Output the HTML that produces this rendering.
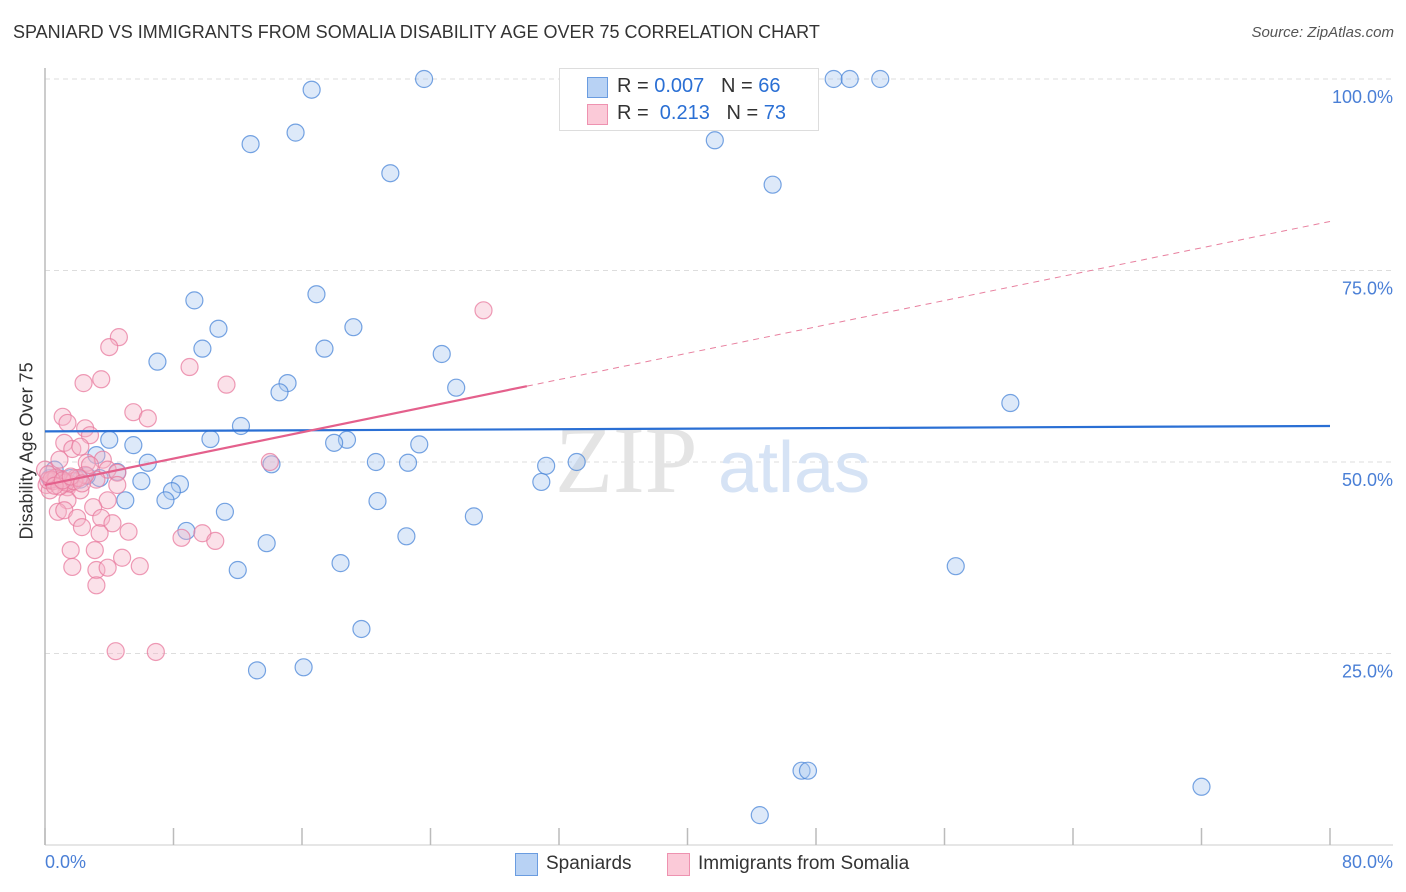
<!DOCTYPE html>
<html><head><meta charset="utf-8"><style>
body{margin:0;background:#fff;font-family:"Liberation Sans",sans-serif;}
#wrap{position:relative;width:1406px;height:892px;overflow:hidden;}
.t{position:absolute;white-space:nowrap;}
</style></head><body>
<div id="wrap">
<div class="t" style="left:13px;top:22px;font-size:18px;color:#333;">SPANIARD VS IMMIGRANTS FROM SOMALIA DISABILITY AGE OVER 75 CORRELATION CHART</div>
<div class="t" style="right:12px;top:24px;font-size:15px;color:#555;font-style:italic;">Source: ZipAtlas.com</div>
<svg id="plot" width="1406" height="892" style="position:absolute;left:0;top:0;"></svg>
</div>
<script>
const xTicksVals=[0,10,20,30,40,50,60,70,80];
const yTickVals=[25,50,75,100];
const yTickLabels=["25.0%","50.0%","75.0%","100.0%"];
const spanX=[23.6,16.6,15.6,12.8,21.5,49.1,50.1,52.0,41.7,45.3,9.3,16.9,10.8,19.2,7.0,9.8,17.4,24.7,15.1,14.6,25.6,60.1,12.2,10.3,4.0,5.5,18.8,18.0,23.3,6.4,20.6,22.6,14.1,31.2,33.1,30.9,4.5,6.0,3.2,8.4,7.9,7.5,5.0,20.7,11.2,26.7,8.8,22.5,13.8,12.0,18.4,56.7,19.7,13.2,16.1,47.1,47.5,72.0,44.5,0.3,0.9,1.6,2.2,0.6,3.4,2.6];
const spanY=[100,98.6,93.0,91.5,87.7,100,100,100,92.0,86.2,71.1,71.9,67.4,67.6,63.1,64.8,64.8,64.1,60.3,59.1,59.7,57.7,54.7,53.0,52.9,52.2,52.9,52.5,52.3,49.9,50.0,49.9,49.7,49.5,50.0,47.4,48.7,47.5,50.9,47.1,46.2,45.0,45.0,44.9,43.5,42.9,41.0,40.3,39.4,35.9,36.8,36.4,28.2,22.8,23.2,9.7,9.7,7.6,3.9,47.9,47.7,47.9,47.7,49.0,47.9,48.2];
const somX=[4.6,4.0,2.4,3.5,9.0,11.3,27.3,5.5,6.4,1.1,1.4,2.5,1.2,1.7,2.8,2.2,3.6,14.0,2.6,0.9,3.9,4.5,3.2,4.5,1.4,2.2,3.9,1.4,3.0,0.8,1.2,2.0,2.3,3.5,4.2,3.4,5.2,8.5,9.8,10.6,1.6,3.1,4.8,5.9,1.7,3.2,3.9,3.2,4.4,6.9,0.1,0.6,1.2,1.9,0.3,2.5,0,2.8,0.5,1.0,1.5,0.2,0.7,1.3,0.4,0.9,1.8,2.1,0.2,0.6,1.1,1.6,2.3];
const somY=[66.3,65.0,60.3,60.8,62.4,60.1,69.8,56.5,55.7,55.9,55.1,54.4,52.5,51.7,53.5,52.0,50.3,50.0,49.9,50.3,49.0,48.6,47.7,47.0,46.7,46.3,45.0,45.0,44.1,43.5,43.7,42.7,41.5,42.7,42.0,40.7,40.9,40.1,40.7,39.7,38.5,38.5,37.5,36.4,36.3,35.9,36.2,33.9,25.3,25.2,47.0,47.9,47.4,47.9,46.3,48.3,49.0,49.6,47.5,47.8,47.2,47.6,48.0,47.3,47.7,46.8,47.5,47.9,48.4,46.9,47.6,48.1,47.2];
const spanTrend=[54.0,54.7];   // y at x=0 and x=80
const somTrend=[47.0,81.4];    // y at x=0 and x=80
const somSolidEnd=30;

const X0=45,X1=1330,Y0=845,Y100=79;
const sx=v=>X0+v/80*(X1-X0);
const sy=v=>Y0-v/100*(Y0-Y100);
const svg=document.getElementById('plot');
const NS='http://www.w3.org/2000/svg';
function mk(tag,attrs,parent){const e=document.createElementNS(NS,tag);for(const k in attrs)e.setAttribute(k,attrs[k]);(parent||svg).appendChild(e);return e;}

yTickVals.forEach((v,i)=>{
  const g=mk('line',{x1:X0,x2:1393,y1:sy(v),y2:sy(v),stroke:'#ddd','stroke-dasharray':'5,4','stroke-width':1});
  
  
  const t=mk('text',{x:1393,y:sy(v)+24,'text-anchor':'end','font-size':18,fill:'#4a7fd6','font-family':'Liberation Sans, sans-serif'});
  t.textContent=yTickLabels[i];
  
  
});
const ax=mk('line',{x1:X0,x2:X0,y1:68,y2:Y0,stroke:'#bbb','stroke-width':1.5});


const bx=mk('line',{x1:X0,x2:1393,y1:Y0,y2:Y0,stroke:'#ccc','stroke-width':1});


for(let v=0;v<=80;v+=8/0.999*1){}
for(let i=0;i<=10;i++){
  const v=i*8;
  const tk=mk('line',{x1:sx(v),x2:sx(v),y1:828,y2:Y0,stroke:'#bbb','stroke-width':1.5});
  
  
}
// watermark
const w1=mk('text',{x:555,y:492,'font-size':95,fill:'#e4e4e4','font-family':'Liberation Serif, serif'});w1.textContent='ZIP';


const w2=mk('text',{x:718,y:492,'font-size':72,fill:'#d6e3f5','font-family':'Liberation Sans, sans-serif'});w2.textContent='atlas';



function pts(xs,ys,fill,stroke,name){
  xs.forEach((x,i)=>{
    const c=mk('circle',{cx:sx(x),cy:sy(ys[i]),r:8.5,fill:fill,'fill-opacity':0.4,stroke:stroke,'stroke-opacity':0.75,'stroke-width':1.2});
    
    
  });
}
pts(spanX,spanY,'#a9c8f0','#4a86d8','spaniard-point');
pts(somX,somY,'#f6b3c8','#e87a9e','somalia-point');

const l1=mk('line',{x1:sx(0),y1:sy(spanTrend[0]),x2:sx(80),y2:sy(spanTrend[1]),stroke:'#2a6fd4','stroke-width':2.2});


const sm=v=>somTrend[0]+(somTrend[1]-somTrend[0])*v/80;
const l2=mk('line',{x1:sx(0),y1:sy(sm(0)),x2:sx(somSolidEnd),y2:sy(sm(somSolidEnd)),stroke:'#e4608c','stroke-width':2.2});


const l3=mk('line',{x1:sx(somSolidEnd),y1:sy(sm(somSolidEnd)),x2:sx(80),y2:sy(sm(80)),stroke:'#e8809f','stroke-width':1,'stroke-dasharray':'6,5'});


</script>
<div class="t" style="left:-58px;top:444px;font-size:18px;color:#333;transform:rotate(-90deg);width:170px;text-align:center;">Disability Age Over 75</div>
<div class="t" style="left:45px;top:852px;font-size:18px;color:#4a7fd6;">0.0%</div>
<div class="t" style="right:13px;top:852px;font-size:18px;color:#4a7fd6;">80.0%</div>
<div style="position:absolute;left:559px;top:68px;width:258px;height:61px;border:1px solid #ddd;background:#fff;">
 <div style="position:absolute;left:27px;top:8px;width:19px;height:19px;background:#b8d2f4;border:1px solid #6a9ce0;"></div>
 <div style="position:absolute;left:27px;top:35px;width:19px;height:19px;background:#fbcad8;border:1px solid #ee92b0;"></div>
 <div class="t" style="left:57px;top:6px;font-size:20px;color:#333;">R = <span style="color:#2a6fd4">0.007</span>&nbsp;&nbsp;&nbsp;N = <span style="color:#2a6fd4">66</span></div>
 <div class="t" style="left:57px;top:33px;font-size:20px;color:#333;">R = &nbsp;<span style="color:#2a6fd4">0.213</span>&nbsp;&nbsp;&nbsp;N = <span style="color:#2a6fd4">73</span></div>
</div>
<div style="position:absolute;left:515px;top:853px;">
 <div style="position:absolute;left:0;top:0;width:21px;height:21px;background:#b8d2f4;border:1px solid #6a9ce0;"></div>
 <div class="t" style="left:31px;top:0;font-size:19px;color:#333;">Spaniards</div>
</div>
<div style="position:absolute;left:667px;top:853px;">
 <div style="position:absolute;left:0;top:0;width:21px;height:21px;background:#fbcad8;border:1px solid #ee92b0;"></div>
 <div class="t" style="left:31px;top:0;font-size:19px;color:#333;">Immigrants from Somalia</div>
</div>
</body></html>
